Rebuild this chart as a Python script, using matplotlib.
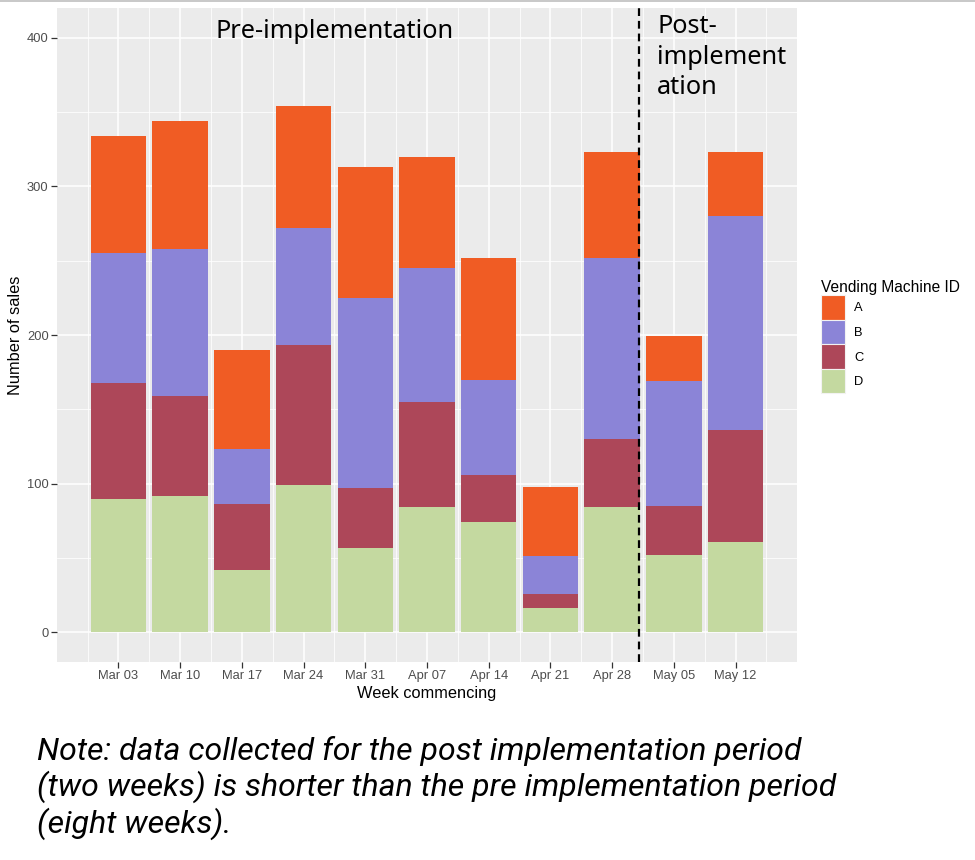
import matplotlib
matplotlib.use("Agg")
import matplotlib.pyplot as plt
import matplotlib.dates as mdates
from matplotlib.patches import Patch
import numpy as np

# weekly sales per vending machine
weeks = ["2025-03-03", "2025-03-10", "2025-03-17", "2025-03-24", "2025-03-31",
         "2025-04-07", "2025-04-14", "2025-04-21", "2025-04-28", "2025-05-05",
         "2025-05-12"]
machine_d = [90, 92, 42, 99, 57, 84, 74, 16, 84, 52, 61]
machine_c = [78, 67, 44, 94, 40, 71, 32, 10, 46, 33, 75]
machine_b = [87, 99, 37, 79, 128, 90, 64, 25, 122, 84, 144]
machine_a = [79, 86, 67, 82, 88, 75, 82, 47, 71, 30, 43]
machines = ["A", "B", "C", "D"]
colors = {"A": "#F05C24", "B": "#8B84D7", "C": "#AD4759", "D": "#C4D9A0"}
cutoff = "2025-05-01"

dates = np.array(weeks, dtype="datetime64[D]")
series = {"A": machine_a, "B": machine_b, "C": machine_c, "D": machine_d}

fig = plt.figure(figsize=(9.75, 8.6), dpi=100)
ax = fig.add_axes([57 / 975, 1 - 662 / 860, 740 / 975, 654 / 860])
ax.set_facecolor("#EBEBEB")

width = 6.3
bottom = np.zeros(len(weeks))
for m in ["D", "C", "B", "A"]:
    vals = np.array(series[m], dtype=float)
    ax.bar(dates, vals, width=width, bottom=bottom, color=colors[m], zorder=3)
    bottom += vals

ax.axvline(np.datetime64(cutoff), color="black", lw=1.6, ls=(0, (3.5, 2.2)), zorder=4)

# ggplot-like expansion of the date axis
span = (dates[-1] - dates[0]).astype(float) + width
pad = width / 2 + 0.05 * span
x0 = mdates.date2num(dates[0]) - pad
x1 = mdates.date2num(dates[-1]) + pad
ax.set_xlim(x0, x1)
ax.set_ylim(-20, 420)

ax.set_xticks(dates)
ax.xaxis.set_major_formatter(mdates.DateFormatter("%b %d"))
minor_x = mdates.date2num(dates) - 3.5
minor_x = np.append(minor_x, mdates.date2num(dates[-1]) + 3.5)
ax.set_xticks(minor_x, minor=True)
ax.set_yticks([0, 100, 200, 300, 400])
ax.set_yticks([50, 150, 250, 350], minor=True)

ax.grid(which="major", color="white", lw=1.1, zorder=0)
ax.grid(which="minor", color="white", lw=0.55, zorder=0)
ax.set_axisbelow(True)
for s in ax.spines.values():
    s.set_visible(False)
ax.tick_params(which="major", length=4, width=0.9, color="#333333",
               labelcolor="#4D4D4D", labelsize=9.3, pad=2,
               labelfontfamily="Liberation Sans")
ax.tick_params(which="minor", length=0)

ax.set_xlabel("Week commencing", fontsize=11.8, family="Liberation Sans", labelpad=2.5)
ax.set_ylabel("Number of sales", fontsize=11.8, family="Liberation Sans", labelpad=3)

handles = [Patch(facecolor=colors[m], edgecolor="#F2F2F2", lw=0.8) for m in machines]
leg = fig.legend(handles, machines, title="Vending Machine ID",
                 loc="upper left", bbox_to_anchor=(816 / 975, 1 - 275 / 860),
                 frameon=False, prop={"family": "Liberation Sans", "size": 9.3},
                 title_fontproperties={"family": "Liberation Sans", "size": 11.2},
                 handlelength=1.85, handleheight=2.55, labelspacing=0.0,
                 handletextpad=0.7, borderaxespad=0)
leg._legend_box.align = "left"

fig.text(215 / 975, 1 - 32 / 860, "Pre-implementation", fontsize=18.2,
         family="Noto Sans", va="center", ha="left")
fig.text(657 / 975, 1 - 57 / 860, "Post-\nimplement\nation", fontsize=18.2,
         family="Noto Sans", va="center", ha="left", linespacing=1.27)

fig.text(37 / 975, 1 - 788 / 860,
         "Note: data collected for the post implementation period\n"
         "(two weeks) is shorter than the pre implementation period\n"
         "(eight weeks).",
         fontsize=23, family="Roboto", style="italic", va="center", ha="left",
         linespacing=1.16)

fig.add_artist(plt.Line2D([0, 1], [1 - 1 / 860, 1 - 1 / 860], color="#BFBFBF", lw=1.2))

fig.savefig("out.png", dpi=100)
